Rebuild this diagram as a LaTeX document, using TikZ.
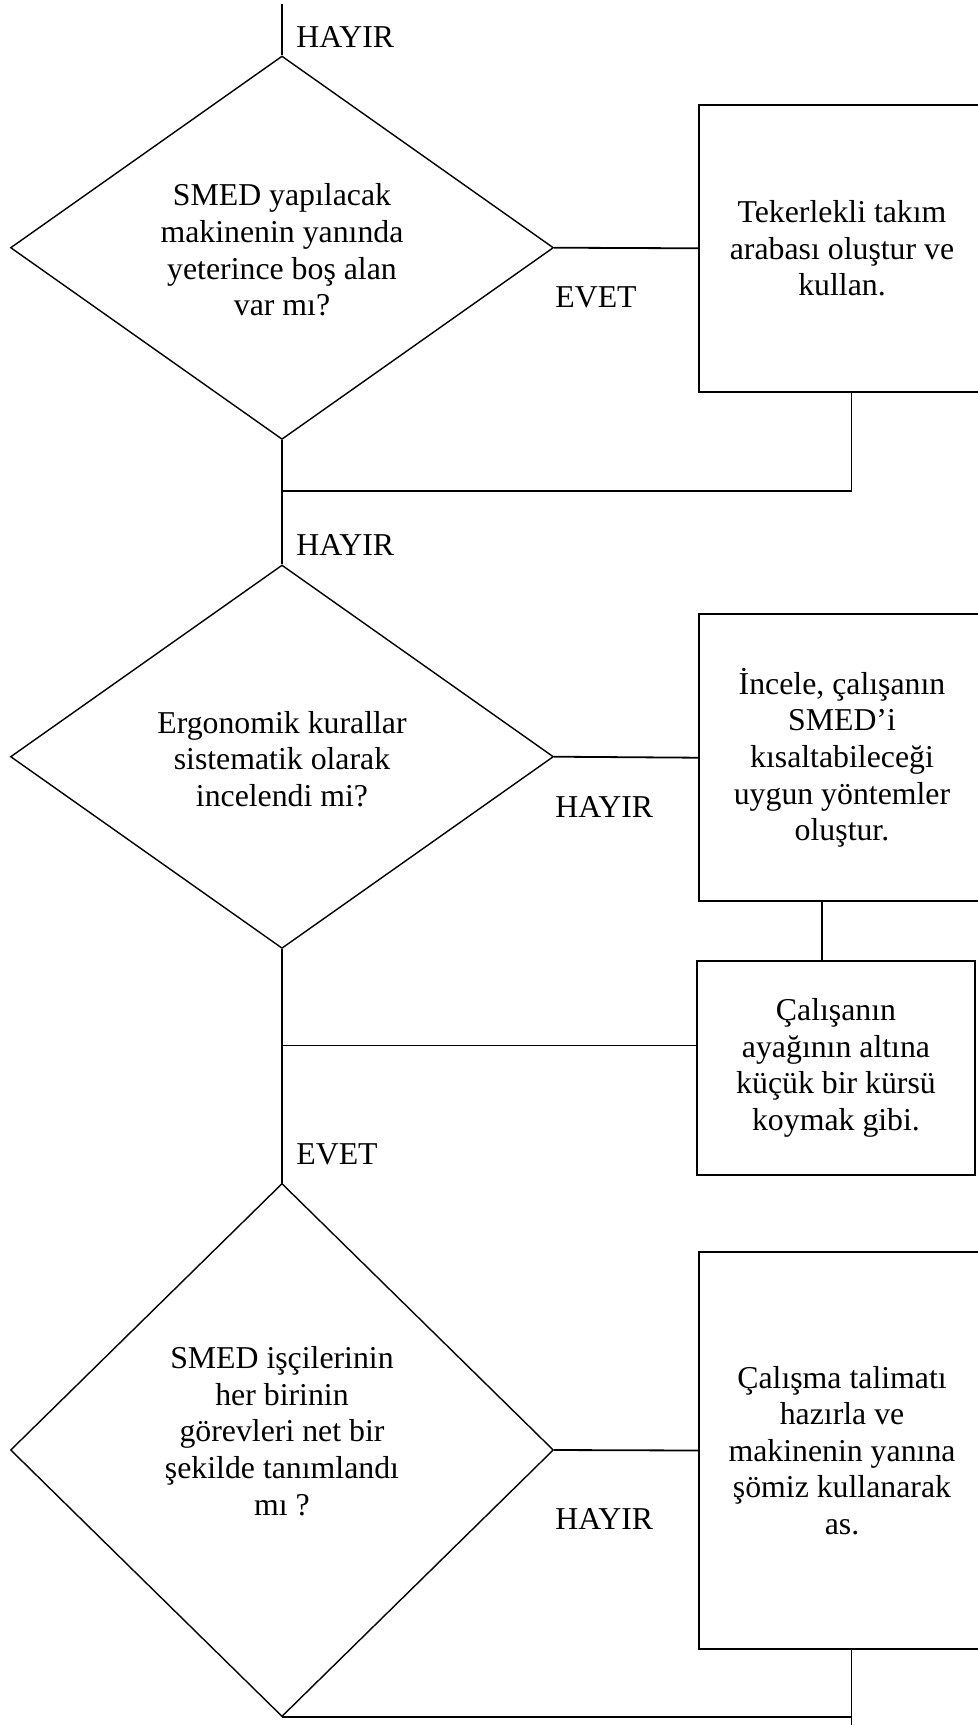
\documentclass[tikz,border=0pt]{standalone}
\usepackage{fontspec}
\setmainfont{Liberation Serif}
\usetikzlibrary{shapes.geometric}
\begin{document}
\begin{tikzpicture}[x=0.5pt,y=-0.5pt,
  every node/.style={font=\fontsize{15.9pt}{18.3pt}\selectfont},
  decision/.style={shape=diamond, draw, line width=0.7pt, inner sep=0pt, minimum width=271.5pt},
  action/.style={draw, line width=0.9pt, align=center, inner sep=0pt, minimum width=143pt},
  qtext/.style={align=center, inner sep=0pt},
  tag/.style={anchor=west, inner sep=0pt},
  link/.style={line width=0.9pt}]
\useasboundingbox (0,0) rectangle (978,1725);
\clip (0,0) rectangle (978,1725);

% decisions
\node[decision, minimum height=191.7pt] (d1) at (282,247.7) {};
\node[decision, minimum height=191.7pt] (d2) at (282,756.7) {};
\node[decision, minimum height=266.6pt] (d3) at (282,1450) {};

\node[qtext] (t1) at (282,250) {SMED yapılacak\\makinenin yanında\\yeterince boş alan\\var mı?};
\node[qtext] (t2) at (282,759) {Ergonomik kurallar\\sistematik olarak\\incelendi mi?};
\node[qtext] (t3) at (282,1431) {SMED işçilerinin\\her birinin\\görevleri net bir\\şekilde tanımlandı\\mı ?};

% actions
\node[action, minimum height=143.4pt] (b1) at (842,248.3) {Tekerlekli takım\\arabası oluştur ve\\kullan.};
\node[action, minimum height=143.4pt] (b2) at (842,757.7) {İncele, çalışanın\\SMED’i\\kısaltabileceği\\uygun yöntemler\\oluştur.};
\node[action, minimum width=139pt, minimum height=106.8pt] (b3) at (836,1067.8) {Çalışanın\\ayağının altına\\küçük bir kürsü\\koymak gibi.};
\node[action, minimum height=198.8pt] (b4) at (842,1450.5) {Çalışma talimatı\\hazırla ve\\makinenin yanına\\şömiz kullanarak\\as.};

% connectors
\coordinate (top) at (282,4);
\coordinate (j1) at (282,491);
\coordinate (j2) at (282,1045.4);
\coordinate (end) at (851.5,1725);

\draw[link] (top) -- (d1.north);
\draw[link] (d1.east) -- (b1.west);
\draw[link] ([xshift=4.75pt]b1.south) |- (j1);
\draw[link] (d1.south) -- (d2.north);
\draw[link] (d2.east) -- (b2.west);
\draw[link] ([xshift=-10pt]b2.south) -- ([xshift=-10pt]b2.south |- b3.north);
\draw[link] (j2) -- (j2 -| b3.west);
\draw[link] (d2.south) -- (d3.north);
\draw[link] (d3.east) -- (b4.west);
\draw[link] (b4.south -| end) -- (end);
\draw[link] (d3.south) -- (d3.south -| end);

% branch labels
\node[tag] (l1) at (296,36.7) {HAYIR};
\node[tag] (l2) at (555,297.7) {EVET};
\node[tag] (l3) at (296,545) {HAYIR};
\node[tag] (l4) at (555,806.7) {HAYIR};
\node[tag] (l5) at (296,1154) {EVET};
\node[tag] (l6) at (555,1518.5) {HAYIR};
\end{tikzpicture}
\end{document}
